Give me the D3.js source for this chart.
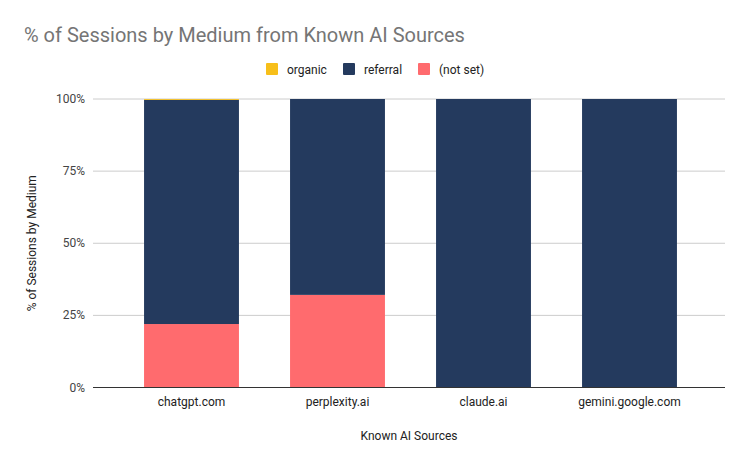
<!DOCTYPE html>
<html>
<head>
<meta charset="utf-8">
<script src="https://cdn.jsdelivr.net/npm/d3@7"></script>
<style>
	body { margin: 0; background: #fff; }
	svg { font-family: Roboto, Arial, sans-serif; }
</style>
</head>
<body>
<div id="chart"></div>
<script>
// Chart data
const sources = ["chatgpt.com", "perplexity.ai", "claude.ai", "gemini.google.com"];
const mediums = ["organic", "referral", "(not set)"];
const organic = [0.3, 0, 0, 0];
const referral = [77.7, 67.9, 100, 100];
const notSet = [22.0, 32.1, 0, 0];
const yTicks = [0, 25, 50, 75, 100];

const colors = {"organic": "#f7bf1a", "referral": "#243a5e", "(not set)": "#ff6b6e"};

const width = 750, height = 463;
const plot = {left: 93, right: 725, top: 99, bottom: 387.5};

const svg = d3.select("#chart").append("svg")
	.attr("width", width)
	.attr("height", height);

// rows for stacking; stack from bottom: (not set), referral, organic
const rows = sources.map((s, i) => ({
	source: s,
	"organic": organic[i],
	"referral": referral[i],
	"(not set)": notSet[i]
}));

const x = d3.scaleBand()
	.domain(sources)
	.range([plot.left + 25.5, plot.right - 22.5])
	.paddingInner(0.35)
	.paddingOuter(0.175);

const y = d3.scaleLinear()
	.domain([0, 100])
	.range([plot.bottom, plot.top]);

// gridlines
svg.append("g")
	.selectAll("line")
	.data(yTicks.filter(t => t > 0))
	.join("line")
	.attr("x1", plot.left)
	.attr("x2", plot.right)
	.attr("y1", d => y(d))
	.attr("y2", d => y(d))
	.attr("stroke", "#cccccc")
	.attr("stroke-width", 1);

// y tick labels
svg.append("g")
	.selectAll("text")
	.data(yTicks)
	.join("text")
	.attr("x", plot.left - 8)
	.attr("y", d => y(d) + 4)
	.attr("text-anchor", "end")
	.style("font-size", "12px")
	.attr("fill", "#444")
	.text(d => d + "%");

// stacked bars
const stack = d3.stack().keys(["(not set)", "referral", "organic"]);
const layers = stack(rows);

svg.append("g")
	.selectAll("g")
	.data(layers)
	.join("g")
	.attr("fill", d => colors[d.key])
	.selectAll("rect")
	.data(d => d)
	.join("rect")
	.attr("x", d => x(d.data.source))
	.attr("width", x.bandwidth())
	.attr("y", d => y(d[1]))
	.attr("height", d => y(d[0]) - y(d[1]));

// baseline
svg.append("line")
	.attr("x1", plot.left)
	.attr("x2", plot.right)
	.attr("y1", plot.bottom)
	.attr("y2", plot.bottom)
	.attr("stroke", "#333")
	.attr("stroke-width", 1);

// x labels
svg.append("g")
	.selectAll("text")
	.data(sources)
	.join("text")
	.attr("x", d => x(d) + x.bandwidth() / 2)
	.attr("y", 406)
	.attr("text-anchor", "middle")
	.style("font-size", "12px")
	.attr("fill", "#222")
	.text(d => d);

// axis titles
svg.append("text")
	.attr("x", (plot.left + plot.right) / 2)
	.attr("y", 440)
	.attr("text-anchor", "middle")
	.style("font-size", "12px")
	.attr("fill", "#222")
	.text("Known AI Sources");

svg.append("text")
	.attr("transform", `translate(36, ${(plot.top + plot.bottom) / 2}) rotate(-90)`)
	.attr("text-anchor", "middle")
	.style("font-size", "12px")
	.attr("fill", "#222")
	.text("% of Sessions by Medium");

// title
svg.append("text")
	.attr("x", 24)
	.attr("y", 42)
	.style("font-size", "20px")
	.attr("fill", "#757575")
	.text("% of Sessions by Medium from Known AI Sources");

// legend
const legendX = [266, 343, 418];
const legend = svg.append("g");
mediums.forEach((m, i) => {
	const g = legend.append("g").attr("transform", `translate(${legendX[i]}, 63)`);
	g.append("rect")
		.attr("width", 12)
		.attr("height", 12)
		.attr("rx", 1)
		.attr("fill", colors[m]);
	g.append("text")
		.attr("x", 21)
		.attr("y", 10.5)
		.style("font-size", "12px")
		.attr("fill", "#222")
		.text(m);
});
</script>
</body>
</html>
